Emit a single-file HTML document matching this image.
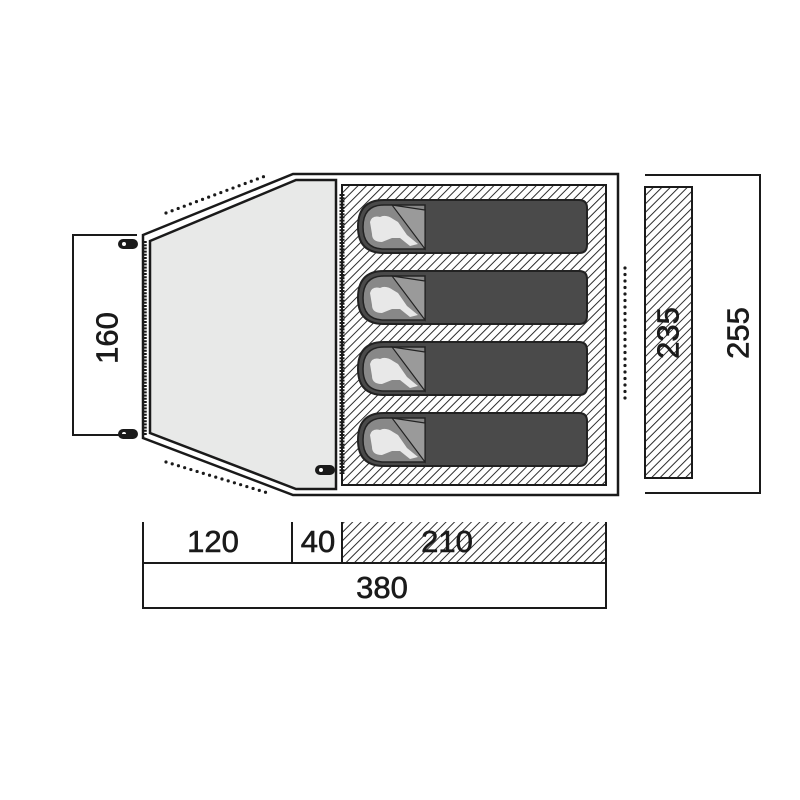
<!DOCTYPE html>
<html><head><meta charset="utf-8"><style>
html,body{margin:0;padding:0;background:#fff;width:800px;height:800px;overflow:hidden}
svg{display:block}
text{font-family:"Liberation Sans",sans-serif;font-size:31px;fill:#1a1a1a;stroke:#1a1a1a;stroke-width:0.6}
</style></head><body>
<svg width="800" height="800" viewBox="0 0 800 800" xmlns="http://www.w3.org/2000/svg">
<defs>
<pattern id="h" patternUnits="userSpaceOnUse" width="6" height="6" patternTransform="rotate(45)">
<rect width="6" height="6" fill="#fff"/>
<line x1="0" y1="0" x2="0" y2="6" stroke="#222" stroke-width="1.9"/>
</pattern>
<g id="bag">
<path d="M384,0 H579 Q587,0 587,8 V45 Q587,53 579,53 H384 Q358,53 358,27 Q358,0 384,0 Z" fill="#4a4a4a" stroke="#222" stroke-width="2"/>
<path d="M384,5 H425 V49 H384 Q363,49 363,27 Q363,5 384,5 Z" fill="#888" stroke="#222" stroke-width="1.5"/>
<path d="M392,5 L425,10 L425,49 Z" fill="#9a9a9a" stroke="#222" stroke-width="1.2"/>
<path d="M370,22 Q372,15 380,17 Q386,14 393,19 L398,22 L407,35 L418,44 L410,46 L400,38 L392,38 L382,42 Q372,42 372,34 Z" fill="#e8e8e8"/>
</g>
</defs>
<path d="M143,235 L293,174 H618 V495 H293 L143,438 Z" fill="#fff" stroke="#1a1a1a" stroke-width="2.5"/>
<path d="M150,241 L296,180 H336 V489 H296 L150,433 Z" fill="#e8e9e8" stroke="#1a1a1a" stroke-width="2.5"/>
<rect x="342" y="185" width="264" height="300" fill="url(#h)" stroke="#1a1a1a" stroke-width="2"/>
<line x1="145" y1="241" x2="145" y2="436" stroke="#1a1a1a" stroke-width="3.5" stroke-dasharray="2,1.2"/>
<line x1="342" y1="194" x2="342" y2="474" stroke="#1a1a1a" stroke-width="5" stroke-dasharray="2,1.2"/>
<g fill="#1a1a1a">
<rect x="118" y="239" width="20" height="10" rx="5"/>
<rect x="118" y="429" width="20" height="10" rx="5"/>
<rect x="315" y="465" width="20" height="10" rx="5"/>
</g>
<g fill="#fff"><circle cx="124" cy="244" r="2"/><circle cx="124" cy="434" r="2"/><circle cx="321" cy="470" r="2"/></g>
<g stroke="#1a1a1a" stroke-width="3.2" stroke-linecap="round" stroke-dasharray="0,6.5">
<line x1="166" y1="213" x2="268" y2="175"/>
<line x1="166" y1="462" x2="268" y2="493"/>
<line x1="625" y1="268" x2="625" y2="402"/>
</g>
<use href="#bag" y="200"/>
<use href="#bag" y="271"/>
<use href="#bag" y="342"/>
<use href="#bag" y="413"/>
<path d="M137,235 H73 V435 H137" fill="none" stroke="#1a1a1a" stroke-width="2"/>
<text transform="translate(107,338) rotate(-90)" text-anchor="middle" dominant-baseline="central">160</text>
<rect x="645" y="187" width="47" height="291" fill="url(#h)" stroke="#1a1a1a" stroke-width="2"/>
<path d="M645,175 H760 V493 H645" fill="none" stroke="#1a1a1a" stroke-width="2"/>
<text transform="translate(668,333) rotate(-90)" text-anchor="middle" dominant-baseline="central">235</text>
<text transform="translate(738,333) rotate(-90)" text-anchor="middle" dominant-baseline="central">255</text>
<rect x="342" y="522" width="264" height="41" fill="url(#h)"/>
<path d="M143,522 V608 H606 V522" fill="none" stroke="#1a1a1a" stroke-width="2"/>
<line x1="143" y1="563" x2="606" y2="563" stroke="#1a1a1a" stroke-width="2"/>
<line x1="292" y1="522" x2="292" y2="563" stroke="#1a1a1a" stroke-width="2"/>
<line x1="342" y1="522" x2="342" y2="563" stroke="#1a1a1a" stroke-width="2"/>
<text x="213" y="552" text-anchor="middle">120</text>
<text x="318" y="552" text-anchor="middle">40</text>
<text x="447" y="552" text-anchor="middle">210</text>
<text x="382" y="598" text-anchor="middle">380</text>
</svg>
</body></html>
